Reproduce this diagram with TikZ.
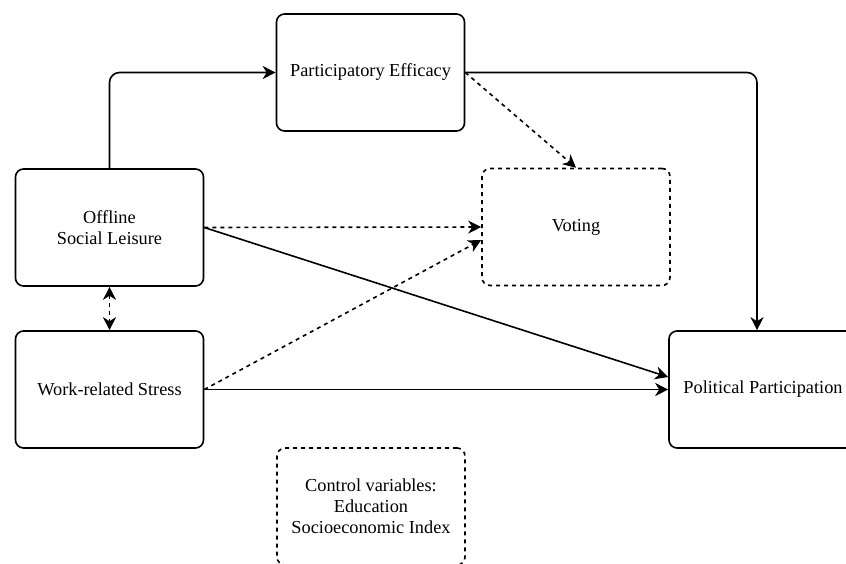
\documentclass[tikz,border=0pt]{standalone}
\usepackage{fontspec}
\setmainfont{Liberation Serif}
\usetikzlibrary{arrows.meta,calc}
\begin{document}
\begin{tikzpicture}[x=1pt,y=-1pt,
  box/.style={draw, line width=1.6pt, rounded corners=8pt, minimum width=188pt,
    minimum height=117pt, inner sep=0pt, align=center,
    font=\fontsize{18.3}{21}\selectfont},
  dbox/.style={box, dash pattern=on 4pt off 4pt},
  tip/.style={Stealth[length=13pt,width=13pt,inset=4pt]},
  link/.style={line width=1.6pt, -{Stealth[length=13pt,width=13pt,inset=4pt]}},
  dlink/.style={link, dash pattern=on 4pt off 4pt},
]
\fill[white] (0,0) rectangle (846,563);
\useasboundingbox (0,0) rectangle (846,563);

% variables
\node[box]  (eff) at (370.5,72.5) {Participatory Efficacy};
\node[box]  (off) at (109.5,227.5) {Offline\\Social Leisure};
\node[box]  (wrk) at (109.5,389.5) {Work-related Stress};
\node[dbox] (vot) at (576,227) {Voting};
\node[box]  (pol) at (763,389.5) {Political Participation};
\node[dbox] (ctl) at (371,506.5) {Control variables:\\Education\\Socioeconomic Index};

% paths
\draw[link, rounded corners=10pt] (off.north) |- (eff.west);
\coordinate (polin) at ($(pol.north)+(-6,0)$);
\draw[link, rounded corners=10pt] (eff.east) -| (polin);
\draw[dlink] (eff.east) -- (vot.north);
\draw[dlink] (off.east) -- (vot.west);
\draw[link] (off.east) -- ($(pol.west)+(0,-12.5)$);
\draw[dlink] (wrk.east) -- ($(vot.west)+(0,13)$);
\draw[link] (wrk.east) -- (pol.west);
\draw[dlink, {Stealth[length=13pt,width=13pt,inset=4pt]}-{Stealth[length=13pt,width=13pt,inset=4pt]}] (off.south) -- (wrk.north);
\end{tikzpicture}
\end{document}
